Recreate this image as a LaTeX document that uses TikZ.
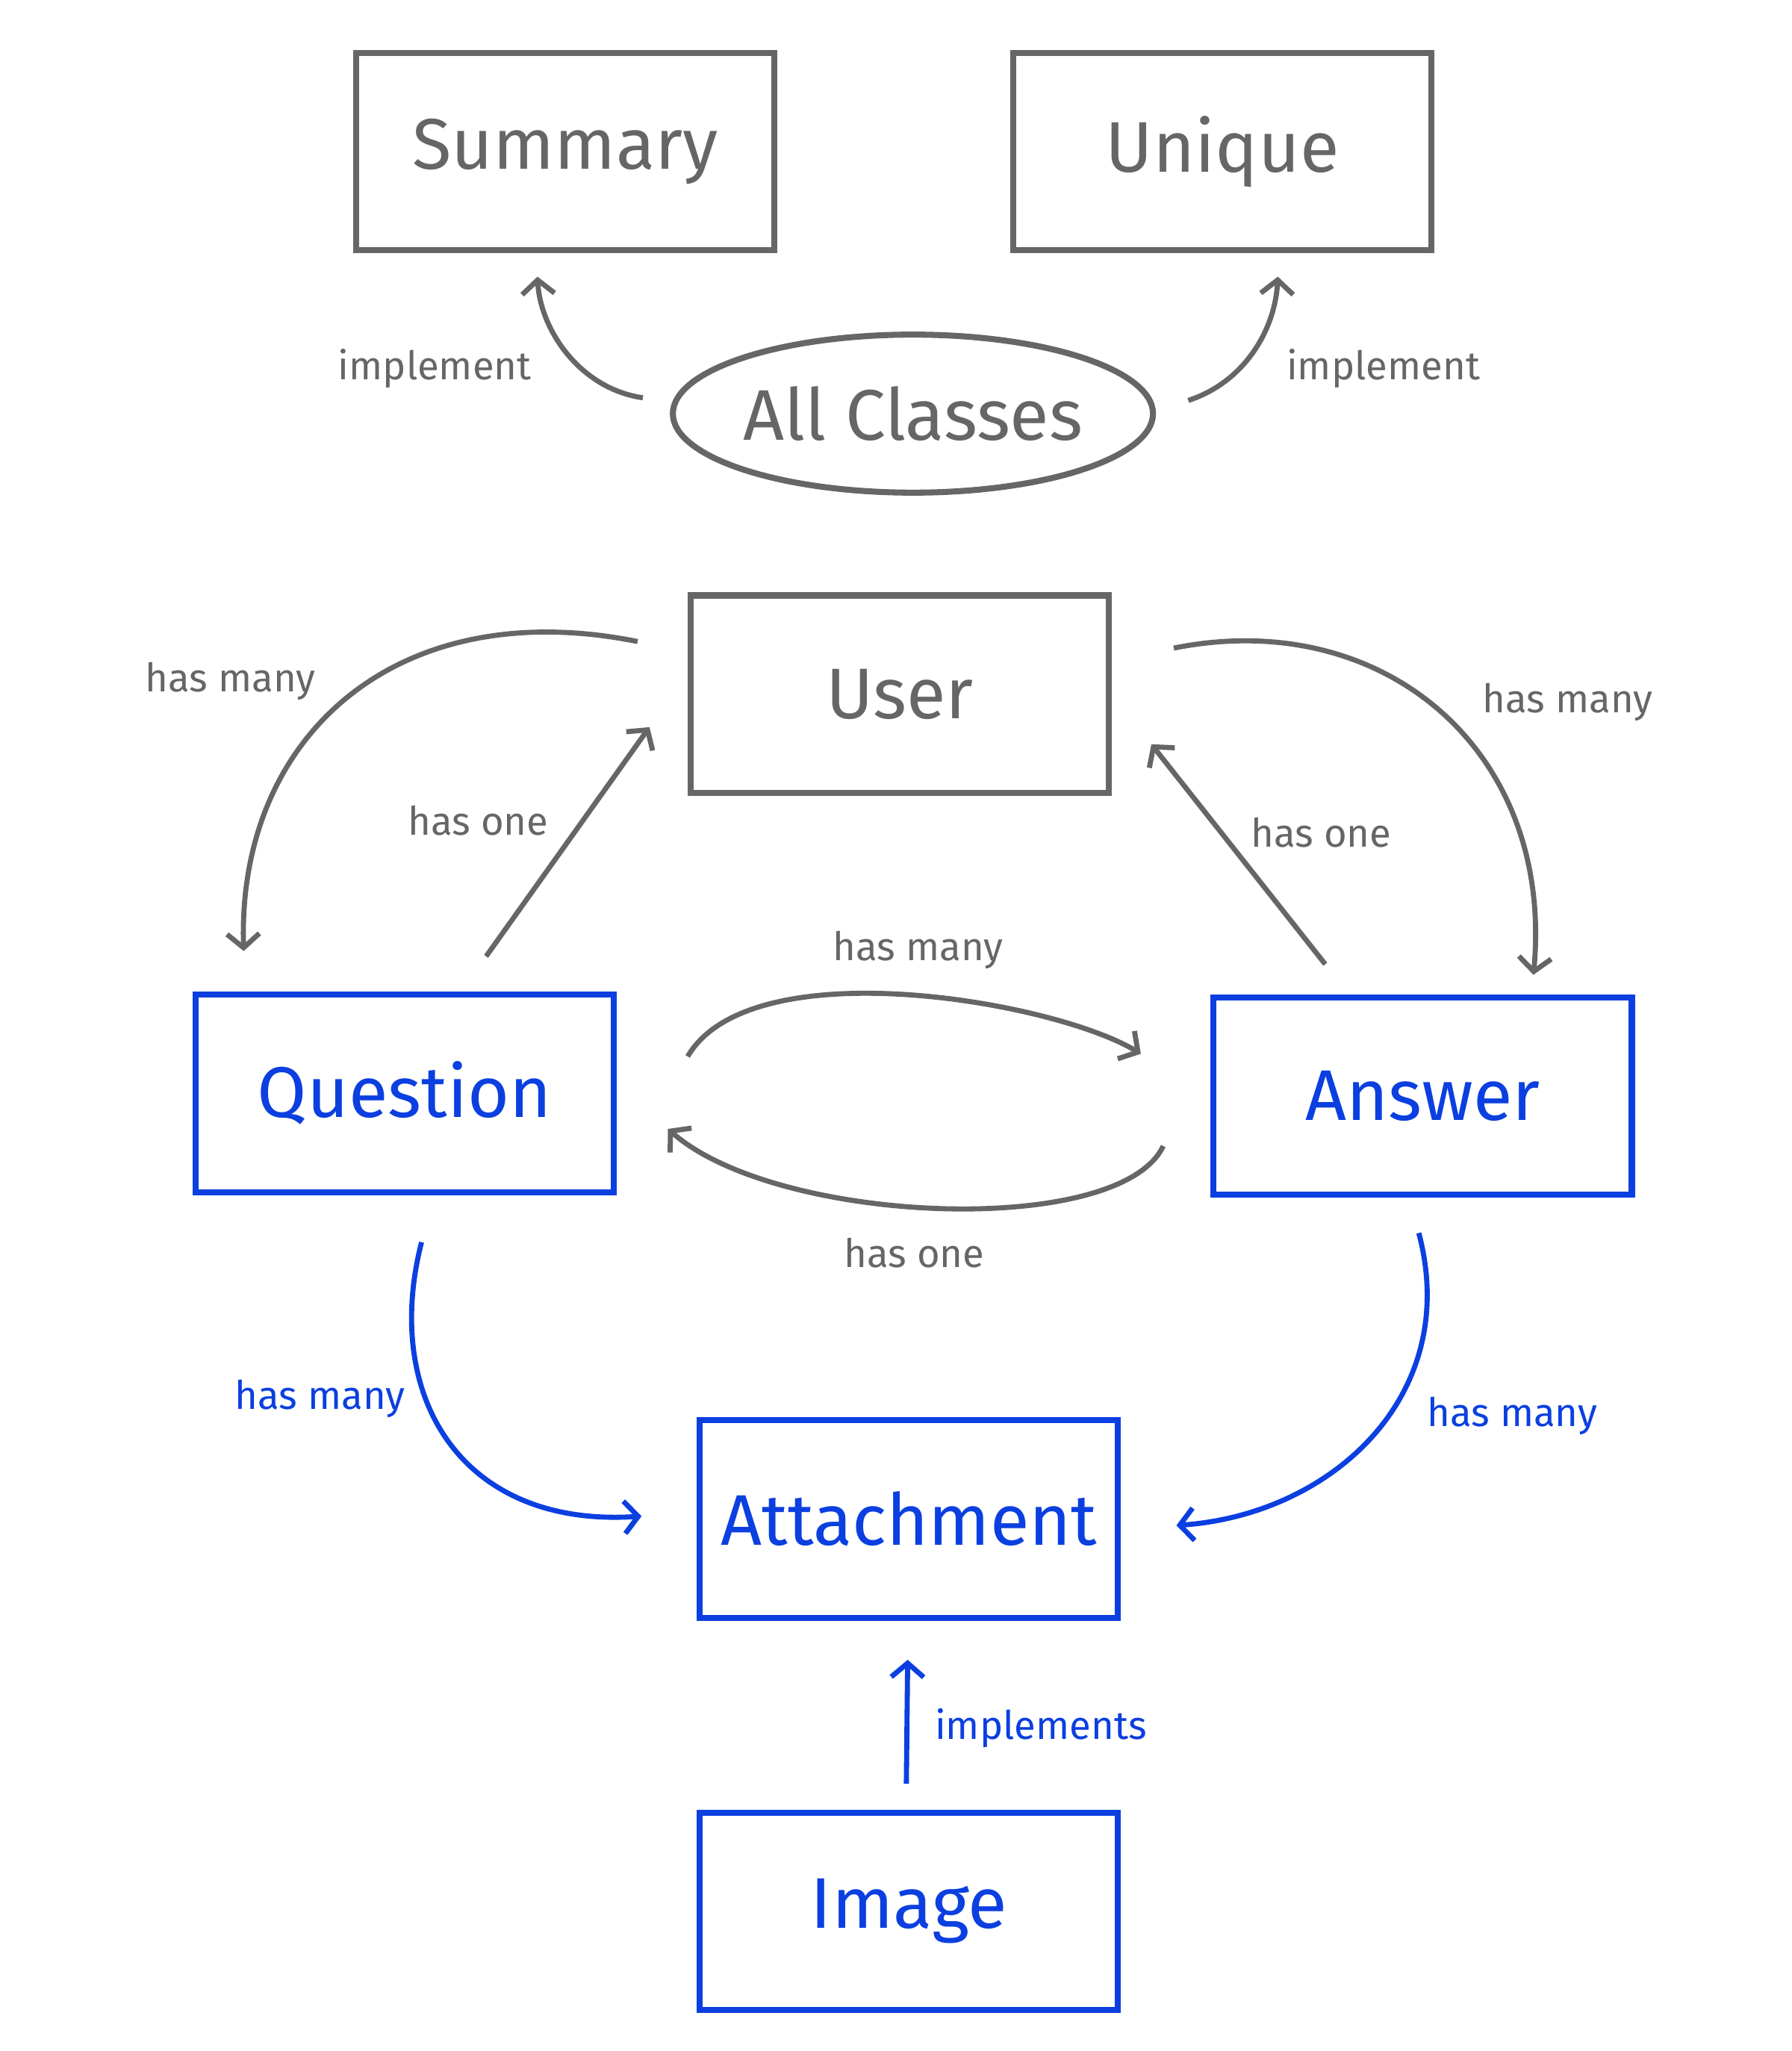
\documentclass[tikz,border=0pt]{standalone}
\usepackage{fontspec}
\setmainfont{Fira Sans}
\usetikzlibrary{arrows.meta,shapes.geometric}
\definecolor{ink}{HTML}{666666}
\definecolor{bl}{HTML}{0B3FE0}
\tikzset{
  box/.style={draw,line width=2.6pt,minimum width=6.35cm,minimum height=3cm,font=\fontsize{31}{36}\selectfont},
  lbl/.style={font=\fontsize{17}{20}\selectfont},
  conn/.style={line width=2.2pt,-{Straight Barb[length=6pt,width=14pt,line width=2.2pt]}}
}
\begin{document}
\begin{tikzpicture}[x=0.02cm,y=-0.02cm]
\useasboundingbox (0,0) rectangle (1360,1557);

% Top classes
\node[box,ink] (summary) at (429,115) {Summary};
\node[box,ink] (unique) at (928,115) {Unique};
\node[draw,ink,ellipse,inner sep=0pt,line width=2.6pt,minimum width=7.1cm,minimum height=2.4cm,font=\fontsize{31}{36}\selectfont] (all) at (693,314) {All Classes};

% Main classes
\node[box,ink] (user) at (683,527) {User};
\node[box,bl,text=bl] (question) at (307,830) {Question};
\node[box,bl,text=bl] (answer) at (1080,832) {Answer};
\node[box,bl,text=bl] (attach) at (690,1153) {Attachment};
\node[box,bl,text=bl] (image) at (690,1451) {Image};

% Connector ends
\coordinate (a1) at (488,302); \coordinate (b1) at (408,210);
\coordinate (a2) at (902,304); \coordinate (b2) at (970,210);
\coordinate (a3) at (484,487); \coordinate (b3) at (185,722);
\coordinate (a4) at (369,726); \coordinate (b4) at (493,552);
\coordinate (a5) at (891,492); \coordinate (b5) at (1164,740);
\coordinate (a6) at (1006,732); \coordinate (b6) at (874,565);
\coordinate (a7) at (522,802); \coordinate (b7) at (866,800);
\coordinate (a8) at (883,870); \coordinate (b8) at (507,857);
\coordinate (a9) at (320,943); \coordinate (b9) at (487,1151);
\coordinate (a10) at (1077,936); \coordinate (b10) at (893,1158);
\coordinate (a11) at (688,1354); \coordinate (b11) at (689,1260);

% Gray connectors
\begin{scope}[ink]
\draw[conn] (a1) .. controls (440,295) and (410,250) .. (b1);
\node[lbl] (l1) at (330,280) {implement};
\draw[conn] (a2) .. controls (945,290) and (968,250) .. (b2);
\node[lbl] (l2) at (1050,280) {implement};
\draw[conn] (a3) .. controls (300,450) and (180,560) .. (b3);
\node[lbl] (l3) at (175,517) {has many};
\draw[conn] (a4) -- (b4);
\node[lbl] (l4) at (363,623) {has one};
\draw[conn] (a5) .. controls (1050,460) and (1180,570) .. (b5);
\node[lbl] (l5) at (1190,533) {has many};
\draw[conn] (a6) -- (b6);
\node[lbl] (l6) at (1003,632) {has one};
\draw[conn] (a7) .. controls (570,720) and (800,760) .. (b7);
\node[lbl] (l7) at (697,721) {has many};
\draw[conn] (a8) .. controls (850,940) and (590,930) .. (b8);
\node[lbl] (l8) at (694,951) {has one};
\end{scope}

% Blue connectors
\begin{scope}[bl]
\draw[conn] (a9) .. controls (290,1060) and (350,1160) .. (b9);
\node[lbl] (l9) at (243,1062) {has many};
\draw[conn] (a10) .. controls (1110,1060) and (1010,1150) .. (b10);
\node[lbl] (l10) at (1148,1075) {has many};
\draw[conn] (a11) -- (b11);
\node[lbl] (l11) at (790,1312) {implements};
\end{scope}
\end{tikzpicture}
\end{document}
